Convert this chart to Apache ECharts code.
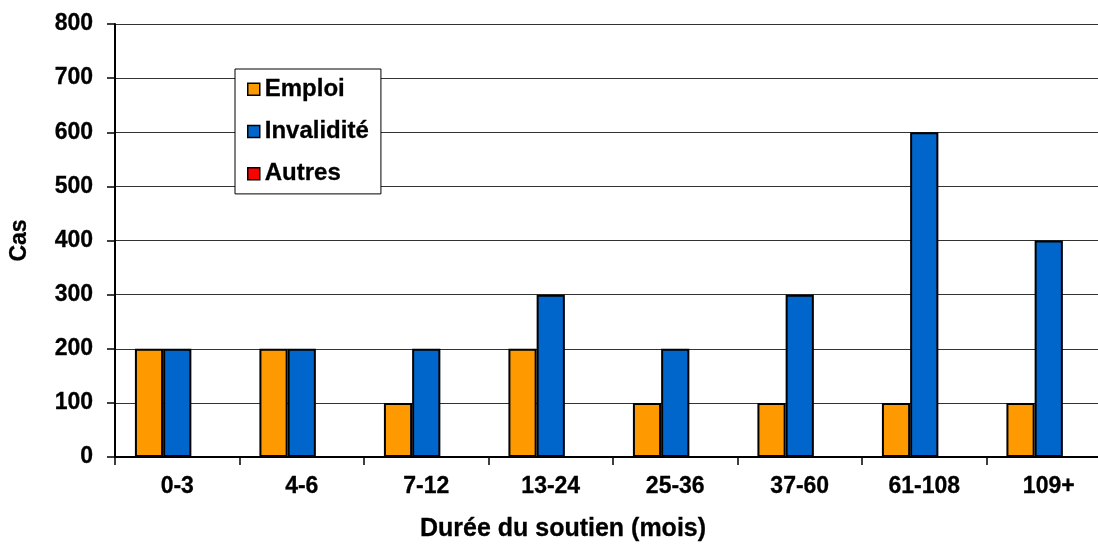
<!DOCTYPE html>
<html>
<head>
<meta charset="utf-8">
<script src="https://cdn.jsdelivr.net/npm/echarts@6/dist/echarts.min.js"></script>
<style>
  html, body { margin: 0; padding: 0; background: #fff; }
  #chart { width: 1098px; height: 544px; }
</style>
</head>
<body>
<div id="chart"></div>
<script>
// Durée du soutien, par motif de sortie
const categories = ['0-3', '4-6', '7-12', '13-24', '25-36', '37-60', '61-108', '109+'];
const emploi     = [200, 200, 100, 200, 100, 100, 100, 100];
const invalidite = [200, 200, 200, 300, 200, 300, 600, 400];
const autres     = [0, 0, 0, 0, 0, 0, 0, 0];
const seriesNames = ['Emploi', 'Invalidité', 'Autres'];
const seriesColors = ['#FF9900', '#0066CC', '#FF0000'];

const FONT = '"Liberation Sans", Arial, sans-serif';
const chart = echarts.init(document.getElementById('chart'), null, { renderer: 'canvas' });

const barStyle = (color) => ({ color: color, borderColor: '#000', borderWidth: 2 });
const boldText = (size) => ({
  fontFamily: FONT, fontSize: size, fontWeight: 'bold', color: '#000',
  textBorderColor: '#000', textBorderWidth: 0.3
});

chart.setOption({
  backgroundColor: '#fff',
  animation: false,
  textStyle: { fontFamily: FONT },
  grid: { left: 115, top: 24, right: -13, bottom: 87, outerBoundsMode: 'none', containLabel: false },
  legend: {
    orient: 'vertical',
    left: 235,
    top: 69,
    padding: [8, 12, 8, 12],
    itemGap: 18,
    itemWidth: 12,
    itemHeight: 12,
    icon: 'rect',
    itemStyle: { borderColor: '#000', borderWidth: 1.5 },
    backgroundColor: '#fff',
    borderColor: '#000',
    borderWidth: 1,
    textStyle: Object.assign(boldText(24), { padding: [0, 0, 0, 0] }),
    data: seriesNames
  },
  xAxis: {
    type: 'category',
    data: categories,
    boundaryGap: true,
    name: 'Durée du soutien (mois)',
    nameLocation: 'middle',
    nameGap: 60,
    nameTextStyle: Object.assign(boldText(25), { padding: [0, 100, 0, 0] }),
    axisLine: { lineStyle: { color: '#000', width: 2 } },
    axisTick: { show: true, length: 8, lineStyle: { color: '#000', width: 1.5 } },
    axisLabel: Object.assign(boldText(23), { margin: 18, interval: 0 }),
    splitLine: { show: false }
  },
  yAxis: {
    type: 'value',
    min: 0,
    max: 800,
    interval: 100,
    name: 'Cas',
    nameLocation: 'middle',
    nameRotate: 90,
    nameGap: 84,
    nameTextStyle: boldText(23),
    axisLine: { show: true, lineStyle: { color: '#000', width: 2 } },
    axisTick: { show: true, length: 8, lineStyle: { color: '#000', width: 1.5 } },
    axisLabel: Object.assign(boldText(23), { margin: 22 }),
    splitLine: { show: true, lineStyle: { color: '#333', width: 1.2 } }
  },
  series: [
    { name: seriesNames[0], type: 'bar', data: emploi, barGap: 0, barCategoryGap: '32%', itemStyle: barStyle(seriesColors[0]) },
    { name: seriesNames[1], type: 'bar', data: invalidite, barGap: 0, barCategoryGap: '32%', itemStyle: barStyle(seriesColors[1]) },
    { name: seriesNames[2], type: 'bar', data: autres, barGap: 0, barCategoryGap: '32%', itemStyle: barStyle(seriesColors[2]) }
  ]
});
</script>
</body>
</html>
